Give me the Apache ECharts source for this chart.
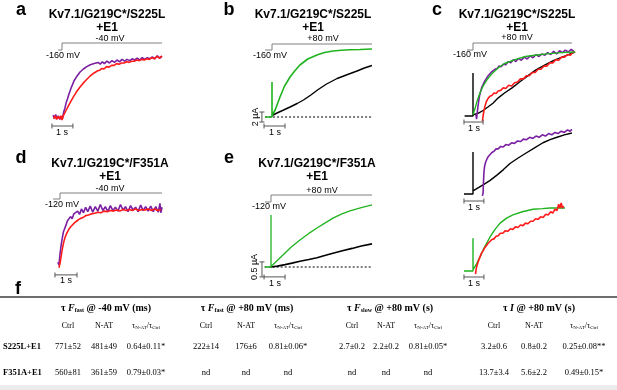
<!DOCTYPE html>
<html>
<head>
<meta charset="utf-8">
<script src="https://cdn.jsdelivr.net/npm/echarts@6/dist/echarts.min.js"></script>
<style>
  html, body { margin: 0; padding: 0; background: #fff; }
  #chart { width: 617px; height: 390px; }
</style>
</head>
<body>
<div id="chart"></div>
<script>
// ---- traces: [time (s), amplitude] ----
// a: normalized fluorescence, -40 mV
const purpleA = [[-0.43,0.03],[-0.36,-0.02],[-0.3,0.04],[-0.24,-0.03],[-0.17,0.02],[-0.1,-0.04],[-0.04,0.01],[0.02,-0.03],[0.08,0.08],[0.14,0.15],[0.2,0.24],[0.26,0.3],[0.32,0.37],[0.38,0.43],[0.44,0.49],[0.5,0.54],[0.57,0.6],[0.64,0.62],[0.71,0.68],[0.78,0.7],[0.86,0.75],[0.94,0.74],[1.02,0.8],[1.1,0.78],[1.18,0.84],[1.26,0.82],[1.35,0.87],[1.44,0.84],[1.53,0.89],[1.62,0.87],[1.72,0.91],[1.82,0.88],[1.92,0.92],[2.02,0.89],[2.14,0.93],[2.26,0.9],[2.38,0.94],[2.5,0.91],[2.62,0.95],[2.74,0.92],[2.86,0.96],[2.98,0.93],[3.1,0.96],[3.22,0.94],[3.34,0.97],[3.46,0.95],[3.58,0.98],[3.7,0.95],[3.82,0.99],[3.94,0.96],[4.06,0.99],[4.18,0.97],[4.3,1.0],[4.42,0.97],[4.54,1.02],[4.66,0.98],[4.76,1.01]];
const redA = [[-0.4,-0.03],[-0.33,0.02],[-0.26,-0.04],[-0.19,0.01],[-0.12,-0.03],[-0.05,0.02],[0.0,-0.05],[0.06,0.02],[0.12,0.05],[0.18,0.1],[0.24,0.13],[0.3,0.18],[0.36,0.21],[0.42,0.26],[0.48,0.29],[0.55,0.34],[0.62,0.37],[0.69,0.42],[0.76,0.44],[0.84,0.49],[0.92,0.51],[1.0,0.56],[1.08,0.57],[1.16,0.62],[1.24,0.63],[1.33,0.68],[1.42,0.69],[1.51,0.73],[1.6,0.73],[1.7,0.77],[1.8,0.78],[1.9,0.81],[2.0,0.8],[2.12,0.84],[2.24,0.83],[2.36,0.86],[2.48,0.86],[2.6,0.89],[2.72,0.88],[2.84,0.9],[2.96,0.9],[3.08,0.92],[3.2,0.91],[3.32,0.93],[3.44,0.93],[3.56,0.95],[3.68,0.94],[3.8,0.96],[3.92,0.95],[4.04,0.97],[4.16,0.96],[4.28,0.99],[4.4,0.97],[4.52,1.01],[4.64,0.98],[4.76,1.02]];

// b: current (uA), +80 mV
const greenB = [[-0.33,0],[0,0],[0,7],[0,0.3],[0.15,1.4],[0.38,4],[0.6,6.2],[0.86,8],[1.1,9.3],[1.33,10.4],[1.7,11.6],[2.14,12.4],[2.5,12.9],[2.9,13.2],[3.3,13.35],[3.7,13.45],[4.2,13.5],[4.76,13.6]];
const blackB = [[0,0.3],[0.24,0.8],[0.5,1.3],[0.86,2.0],[1.2,2.7],[1.5,3.4],[1.85,4.4],[2.2,5.5],[2.6,6.6],[3.1,7.7],[3.6,8.5],[4.05,9.2],[4.4,9.8],[4.76,10.3]];
const zeroB = [[-0.33,0],[4.76,0]];

// c: normalized overlays, +80 mV
const blackC1 = [[-0.4,0],[0,0],[0,0.67],[0,0.02],[0.24,0.04],[0.5,0.09],[0.71,0.14],[0.95,0.2],[1.19,0.28],[1.5,0.36],[1.86,0.44],[2.25,0.54],[2.62,0.63],[3.0,0.72],[3.43,0.8],[3.85,0.87],[4.24,0.92],[4.55,0.96],[4.86,1.0]];
const greenC1 = [[0,0.02],[0.1,0.12],[0.2,0.24],[0.33,0.36],[0.5,0.48],[0.67,0.57],[0.9,0.66],[1.19,0.75],[1.5,0.82],[2.0,0.88],[2.5,0.93],[2.95,0.95],[3.5,0.97],[4.2,0.99],[4.86,1.0]];
const purpleC1 = [[0.14,0.02],[0.17,-0.05],[0.2,0.05],[0.25,0.18],[0.3,0.3],[0.36,0.38],[0.42,0.45],[0.48,0.49],[0.55,0.54],[0.62,0.57],[0.7,0.62],[0.78,0.64],[0.86,0.68],[0.95,0.69],[1.04,0.73],[1.14,0.74],[1.24,0.78],[1.34,0.77],[1.45,0.81],[1.56,0.8],[1.68,0.85],[1.8,0.83],[1.92,0.88],[2.04,0.85],[2.16,0.9],[2.3,0.87],[2.44,0.92],[2.58,0.89],[2.72,0.94],[2.86,0.91],[3.0,0.96],[3.14,0.93],[3.28,0.97],[3.42,0.95],[3.56,0.99],[3.7,0.96],[3.84,1.01],[3.98,0.97],[4.12,1.02],[4.26,0.99],[4.4,1.03],[4.54,1.0],[4.68,1.04],[4.8,1.01]];
const redC1 = [[0.45,-0.08],[0.48,0.0],[0.52,0.08],[0.57,0.15],[0.63,0.22],[0.71,0.27],[0.8,0.31],[0.9,0.32],[1.0,0.36],[1.1,0.35],[1.2,0.39],[1.32,0.4],[1.44,0.44],[1.56,0.43],[1.7,0.48],[1.84,0.47],[1.98,0.52],[2.12,0.53],[2.26,0.58],[2.4,0.58],[2.54,0.63],[2.68,0.63],[2.82,0.68],[2.96,0.68],[3.1,0.73],[3.24,0.73],[3.38,0.78],[3.52,0.78],[3.66,0.83],[3.8,0.83],[3.94,0.88],[4.08,0.87],[4.22,0.92],[4.36,0.92],[4.5,0.96],[4.64,0.95],[4.78,1.01],[4.86,0.99]];
const blackC2 = [[-0.43,0],[0,0],[0,0.69],[0,0.05],[0.24,0.1],[0.48,0.15],[0.8,0.22],[1.14,0.31],[1.45,0.4],[1.76,0.5],[2.15,0.59],[2.57,0.68],[2.95,0.76],[3.33,0.84],[3.67,0.89],[4.0,0.93],[4.35,0.97],[4.71,1.0]];
const purpleC2 = [[0.45,-0.03],[0.48,0.02],[0.5,0.2],[0.52,0.35],[0.55,0.45],[0.6,0.52],[0.66,0.57],[0.74,0.62],[0.82,0.64],[0.9,0.68],[1.0,0.7],[1.1,0.74],[1.2,0.74],[1.32,0.78],[1.44,0.77],[1.56,0.81],[1.7,0.8],[1.84,0.84],[1.98,0.83],[2.12,0.87],[2.26,0.86],[2.4,0.9],[2.55,0.89],[2.7,0.93],[2.85,0.91],[3.0,0.95],[3.15,0.93],[3.3,0.97],[3.45,0.95],[3.6,0.99],[3.75,0.97],[3.9,1.01],[4.05,0.99],[4.2,1.03],[4.35,1.01],[4.5,1.05],[4.62,1.03],[4.71,1.06]];
const greenC3 = [[-0.43,0],[0,0],[0,0.52],[0,0.02],[0.15,0.1],[0.33,0.22],[0.55,0.38],[0.81,0.54],[1.05,0.66],[1.29,0.76],[1.6,0.84],[1.9,0.89],[2.35,0.94],[2.86,0.98],[3.3,0.99],[3.67,1.0],[4.38,1.0]];
const redC3 = [[0.12,-0.05],[0.15,0.03],[0.2,0.1],[0.26,0.16],[0.33,0.22],[0.4,0.28],[0.48,0.32],[0.56,0.37],[0.64,0.39],[0.72,0.44],[0.81,0.46],[0.9,0.5],[1.0,0.51],[1.1,0.55],[1.2,0.56],[1.3,0.6],[1.42,0.6],[1.54,0.64],[1.66,0.63],[1.78,0.67],[1.9,0.66],[2.02,0.7],[2.14,0.69],[2.26,0.73],[2.38,0.72],[2.5,0.76],[2.62,0.75],[2.74,0.79],[2.86,0.79],[2.98,0.83],[3.1,0.82],[3.22,0.86],[3.34,0.85],[3.46,0.9],[3.58,0.89],[3.7,0.94],[3.8,0.92],[3.9,0.98],[4.0,0.96],[4.08,1.06],[4.14,1.0],[4.2,1.08],[4.26,1.0],[4.32,1.03]];

// d: normalized fluorescence, F351A, -40 mV
const purpleD = [[-0.1,0.05],[-0.05,0.0],[0.0,0.2],[0.05,0.35],[0.1,0.47],[0.16,0.6],[0.22,0.66],[0.28,0.72],[0.35,0.8],[0.42,0.78],[0.5,0.88],[0.58,0.84],[0.66,0.93],[0.75,0.9],[0.84,0.98],[0.93,0.92],[1.02,1.02],[1.12,0.95],[1.22,1.05],[1.32,0.97],[1.44,1.07],[1.56,0.96],[1.68,1.06],[1.8,0.98],[1.92,1.1],[2.04,0.99],[2.16,1.06],[2.28,0.97],[2.4,1.08],[2.52,0.99],[2.64,1.05],[2.76,0.98],[2.88,1.1],[3.0,1.0],[3.12,1.06],[3.24,0.97],[3.36,1.08],[3.48,1.0],[3.6,1.05],[3.72,0.97],[3.84,1.09],[3.96,0.99],[4.08,1.06],[4.2,0.98],[4.32,1.07],[4.44,0.97],[4.56,1.06],[4.68,0.96],[4.76,1.12],[4.8,0.95],[4.86,1.05]];
const redD = [[-0.05,-0.05],[0.0,0.03],[0.04,0.12],[0.08,0.22],[0.13,0.33],[0.18,0.42],[0.24,0.5],[0.3,0.56],[0.37,0.61],[0.44,0.66],[0.52,0.7],[0.6,0.73],[0.7,0.77],[0.8,0.8],[0.9,0.83],[1.0,0.85],[1.12,0.87],[1.24,0.9],[1.36,0.91],[1.5,0.93],[1.65,0.94],[1.8,0.96],[1.95,0.95],[2.1,0.98],[2.25,0.97],[2.4,0.99],[2.55,0.98],[2.7,1.0],[2.85,0.98],[3.0,1.01],[3.15,0.99],[3.3,1.01],[3.45,0.99],[3.6,1.02],[3.75,0.99],[3.9,1.01],[4.05,1.0],[4.2,1.02],[4.35,0.99],[4.5,1.02],[4.65,0.99],[4.8,1.01]];

// e: current (uA), F351A, +80 mV
const greenE = [[-0.3,0],[0,0],[0,1.73],[0,0.02],[0.2,0.15],[0.57,0.4],[0.95,0.66],[1.38,0.9],[1.8,1.12],[2.19,1.3],[2.6,1.48],[2.95,1.63],[3.35,1.76],[3.76,1.87],[4.3,1.98],[4.81,2.07]];
const blackE = [[0,0],[0.3,0.03],[0.67,0.08],[1.0,0.13],[1.38,0.19],[1.8,0.25],[2.19,0.31],[2.6,0.39],[2.95,0.46],[3.4,0.54],[3.86,0.62],[4.3,0.7],[4.81,0.77]];
const zeroE = [[-0.3,0],[4.81,0]];

// ---- voltage protocols (s, mV) ----
const protoA = [[-0.19,-160],[0,-160],[0,-40],[4.76,-40]];
const protoB = [[-0.33,-160],[0,-160],[0,80],[4.76,80]];
const protoC = [[-0.29,-160],[0,-160],[0,80],[4.71,80]];
const protoD = [[-0.33,-120],[0,-120],[0,-40],[4.86,-40]];
const protoE = [[-0.29,-120],[0,-120],[0,80],[4.81,80]];

// ---- table f ----
const groupTitles = [['F','fast',' @ -40 mV (ms)'], ['F','fast',' @ +80 mV (ms)'], ['F','slow',' @ +80 mV (s)'], ['I','',' @ +80 mV (s)']];
const subHeads = ['Ctrl', 'N-AT', 'ratio'];
const rowLabels = ['S225L+E1', 'F351A+E1'];
const rowS225L = ['771±52','481±49','0.64±0.11*','222±14','176±6','0.81±0.06*','2.7±0.2','2.2±0.2','0.81±0.05*','3.2±0.6','0.8±0.2','0.25±0.08**'];
const rowF351A = ['560±81','361±59','0.79±0.03*','nd','nd','nd','nd','nd','nd','13.7±3.4','5.6±2.2','0.49±0.15*'];

const PURPLE = '#7b1fa2', RED = '#ff1a1a', GREEN = '#1fb31f', BLACK = '#000', GREY = '#808080';
const SANS = '"Liberation Sans", Arial, sans-serif';
const SERIF = '"Liberation Serif", "Times New Roman", serif';
const PPS = 21; // pixels per second in every panel

const grids = [], xAxes = [], yAxes = [], series = [];
function addGrid(t0, y0, ppu, tMin, tMax, vMin, vMax) {
  const i = grids.length;
  grids.push({ left: t0 + tMin * PPS, top: y0 - vMax * ppu, width: (tMax - tMin) * PPS, height: (vMax - vMin) * ppu });
  xAxes.push({ type: 'value', gridIndex: i, min: tMin, max: tMax, show: false });
  yAxes.push({ type: 'value', gridIndex: i, min: vMin, max: vMax, show: false });
  return i;
}
function line(g, data, color, width, extra) {
  series.push(Object.assign({
    type: 'line', xAxisIndex: g, yAxisIndex: g, data: data, symbol: 'none',
    clip: false, silent: true, animation: false, z: 2,
    lineStyle: { color: color, width: width }
  }, extra || {}));
}
function bar(g, data, vertical) {
  line(g, data, '#555', 1, { symbol: 'rect', showSymbol: true, symbolSize: vertical ? [5, 1] : [1, 5], itemStyle: { color: '#555' } });
}
function proto(t0, yHold, yStep, data) {
  const hold = data[0][1], step = data[2][1];
  const g = addGrid(t0, yHold, 1, -1, 5, hold, step);
  grids[g].top = yStep; grids[g].height = yHold - yStep;
  line(g, data, GREY, 1);
}

// panel a
const gA = addGrid(62, 117, 60, -1, 5, -0.3, 1.2);
line(gA, purpleA, PURPLE, 1.6);
line(gA, redA, RED, 1.6);
bar(gA, [[-0.48,-0.15],[0.52,-0.15]]);
proto(62, 50, 43, protoA);

// panel b
const gB = addGrid(272, 117, 5, -1, 5, -3, 15);
line(gB, zeroB, BLACK, 1, { lineStyle: { color: BLACK, width: 1, type: [2, 2] } });
line(gB, blackB, BLACK, 1.4);
line(gB, greenB, GREEN, 1.6);
bar(gB, [[-0.48,1],[-0.48,-1]], true);
bar(gB, [[-0.38,-1.8],[0.62,-1.8]]);
proto(272, 50, 44, protoB);

// panel c (three stacked overlays)
const gC1 = addGrid(473, 116, 64, -1, 5, -0.3, 1.2);
line(gC1, blackC1, BLACK, 1.4);
line(gC1, redC1, RED, 1.6);
line(gC1, purpleC1, PURPLE, 1.6);
line(gC1, greenC1, GREEN, 1.4);
bar(gC1, [[-0.43,-0.094],[0.48,-0.094]]);
const gC2 = addGrid(473, 194, 61, -1, 5, -0.3, 1.2);
line(gC2, blackC2, BLACK, 1.4);
line(gC2, purpleC2, PURPLE, 1.6);
bar(gC2, [[-0.43,-0.115],[0.52,-0.115]]);
const gC3 = addGrid(473, 271, 63, -1, 5, -0.3, 1.2);
line(gC3, greenC3, GREEN, 1.4);
line(gC3, redC3, RED, 1.6);
bar(gC3, [[-0.43,-0.095],[0.52,-0.095]]);
proto(473, 50, 43, protoC);

// panel d
const gD = addGrid(60, 265, 55, -1, 5, -0.3, 1.3);
line(gD, purpleD, PURPLE, 1.6);
line(gD, redD, RED, 1.6);
bar(gD, [[-0.24,-0.18],[0.81,-0.18]]);
proto(60, 199, 193, protoD);

// panel e
const gE = addGrid(271, 267, 30, -1, 5, -0.5, 2.3);
line(gE, zeroE, BLACK, 1, { lineStyle: { color: BLACK, width: 1, type: [2, 2] } });
line(gE, blackE, BLACK, 1.6);
line(gE, greenE, GREEN, 1.3);
bar(gE, [[-0.43,0.17],[-0.43,-0.33]], true);
bar(gE, [[-0.33,-0.33],[0.67,-0.33]]);
proto(271, 202, 195, protoE);

// ---- texts ----
const g = [];
function txt(x, y, text, font, align, extra) {
  g.push(Object.assign({ type: 'text', x: x, y: y, silent: true, z: 10,
    style: { text: text, font: font, fill: '#000', textAlign: align || 'center', textVerticalAlign: 'middle' } }, extra || {}));
}
const LETTER = 'bold 18px ' + SANS, TITLE = 'bold 12px ' + SANS, SMALL = '9px ' + SANS;
[['a',21,10],['b',229,10],['c',437,10],['d',21,158],['e',229,158],['f',18,289]].forEach(l => txt(l[1], l[2], l[0], LETTER));
[[107,15,'S225L'],[313,15,'S225L'],[517,15,'S225L'],[110,164,'F351A'],[317,164,'F351A']].forEach(t => {
  txt(t[0], t[1], 'Kv7.1/G219C*/' + t[2], TITLE);
  txt(t[0], t[1] + 13, '+E1', TITLE);
});
txt(110, 39, '-40 mV', SMALL); txt(46, 56, '-160 mV', SMALL, 'left');
txt(323, 39, '+80 mV', SMALL); txt(253, 56, '-160 mV', SMALL, 'left');
txt(517, 38, '+80 mV', SMALL); txt(453, 55, '-160 mV', SMALL, 'left');
txt(110, 189, '-40 mV', SMALL); txt(45, 205, '-120 mV', SMALL, 'left');
txt(322, 191, '+80 mV', SMALL); txt(252, 207, '-120 mV', SMALL, 'left');
[[62,133],[275,133],[474,129],[474,208],[474,284],[66,281],[275,284]].forEach(p => txt(p[0], p[1], '1 s', SMALL));
txt(256, 117, '2 µA', SMALL, 'center', { rotation: Math.PI / 2 });
txt(255, 267, '0.5 µA', SMALL, 'center', { rotation: Math.PI / 2 });

// table
g.push({ type: 'rect', shape: { x: 0, y: 296, width: 617, height: 2 }, style: { fill: '#6e6e6e' }, silent: true });
g.push({ type: 'rect', shape: { x: 0, y: 385, width: 617, height: 5 }, style: { fill: '#ececec' }, silent: true });
const groupX = [106, 247, 390, 539];
const colX = [68,104,146, 206,246,288, 352,386,428, 494,534,584];
const richHead = {
  n: { font: 'bold 10px ' + SERIF, fill: '#000' },
  i: { font: 'italic bold 10px ' + SERIF, fill: '#000' },
  s: { font: 'bold 6px ' + SERIF, fill: '#000', padding: [5, 0, 0, 0] }
};
groupTitles.forEach((t, k) => {
  const txtStr = '{n|τ }{i|' + t[0] + '}' + (t[1] ? '{s|' + t[1] + '}' : '') + '{n|' + t[2] + '}';
  g.push({ type: 'text', x: groupX[k], y: 308, silent: true,
    style: { text: txtStr, rich: richHead, textAlign: 'center', textVerticalAlign: 'middle' } });
});
const richSub = {
  t: { font: '8px ' + SERIF, fill: '#000' },
  s: { font: '5px ' + SERIF, fill: '#000', padding: [4, 0, 0, 0] }
};
colX.forEach((x, k) => {
  const h = subHeads[k % 3];
  const s = h === 'ratio' ? '{t|τ}{s|N-AT}{t|/τ}{s|Ctrl}' : '{t|' + h + '}';
  g.push({ type: 'text', x: x, y: 326, silent: true,
    style: { text: s, rich: richSub, textAlign: 'center', textVerticalAlign: 'middle' } });
});
[rowS225L, rowF351A].forEach((row, r) => {
  const y = r === 0 ? 347 : 373;
  txt(3, y, rowLabels[r], 'bold 8.5px ' + SERIF, 'left');
  row.forEach((v, k) => txt(colX[k], y, v, '8.5px ' + SERIF));
});

const chart = echarts.init(document.getElementById('chart'));
chart.setOption({
  animation: false,
  backgroundColor: '#fff',
  grid: grids,
  xAxis: xAxes,
  yAxis: yAxes,
  series: series,
  graphic: { elements: g }
});
</script>
</body>
</html>
